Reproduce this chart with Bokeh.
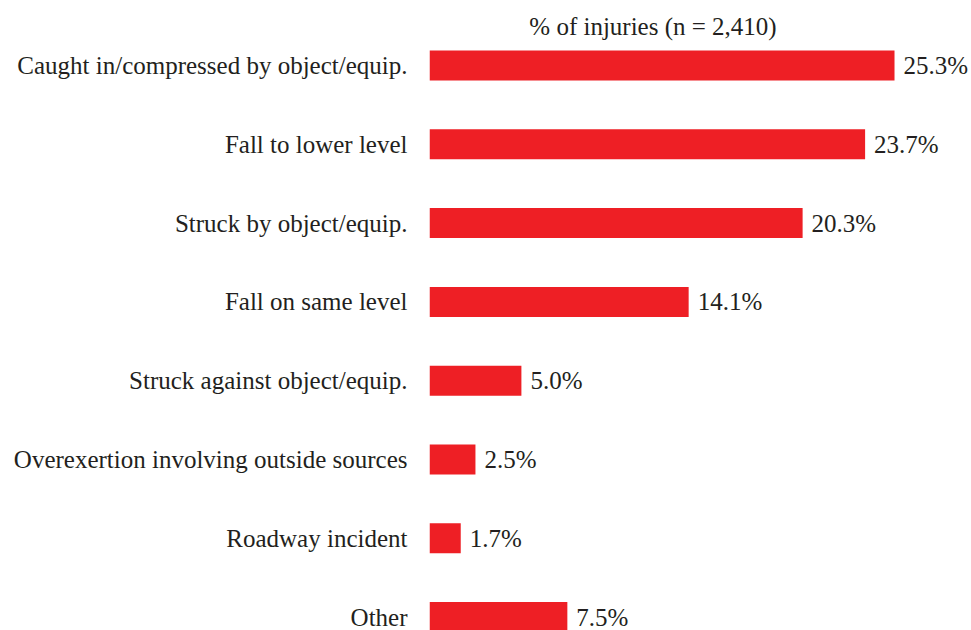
from bokeh.plotting import figure
from bokeh.models import Range1d, FixedTicker, ColumnDataSource, Label
from bokeh.core.properties import value
from bokeh.embed import file_html
from bokeh.resources import INLINE

categories = [
    "Caught in/compressed by object/equip.",
    "Fall to lower level",
    "Struck by object/equip.",
    "Fall on same level",
    "Struck against object/equip.",
    "Overexertion involving outside sources",
    "Roadway incident",
    "Other",
]
percents = [25.3, 23.7, 20.3, 14.1, 5.0, 2.5, 1.7, 7.5]
title_text = "% of injuries (n = 2,410)"

FONT = "Liberation Serif"
FS = "25px"
TEXT_COLOR = "#231F20"
BAR_COLOR = "#EE1F25"

W, H = 971, 630
LEFT = 429
px_per_pct = 18.38
px_per_row = 78.8
first_center = 65.0  # canvas px

pos = list(range(len(categories)))
labels = [f"{v:.1f}%" for v in percents]
src = ColumnDataSource(dict(y=pos, v=percents, lab=labels))

x_end = (W - LEFT) / px_per_pct
y_top = -first_center / px_per_row
y_bot = (H - first_center) / px_per_row

p = figure(width=W, height=H, output_backend="svg", toolbar_location=None,
           x_range=Range1d(0, x_end), y_range=Range1d(y_bot, y_top),
           min_border_left=LEFT, min_border_right=0, min_border_top=0, min_border_bottom=0)
p.outline_line_color = None
p.grid.visible = False
p.xaxis.visible = False
p.background_fill_color = "white"
p.border_fill_color = "white"

p.hbar(y="y", right="v", left=0, height=30 / px_per_row, source=src,
       fill_color=BAR_COLOR, line_color=None)
p.text(x="v", y="y", text="lab", source=src, x_offset=9, text_baseline="middle",
       text_align="left", text_font=value(FONT), text_font_size=FS, text_color=TEXT_COLOR)

ya = p.yaxis[0]
ya.ticker = FixedTicker(ticks=pos)
ya.major_label_overrides = {i: c for i, c in zip(pos, categories)}
ya.axis_line_color = None
ya.major_tick_line_color = None
ya.minor_tick_line_color = None
ya.major_tick_out = 0
ya.major_tick_in = 0
ya.major_label_standoff = 22
ya.major_label_text_font = FONT
ya.major_label_text_font_size = FS
ya.major_label_text_color = TEXT_COLOR

title_x = (652.5 - LEFT) / px_per_pct
title_y = (26.0 - first_center) / px_per_row
p.add_layout(Label(x=title_x, y=title_y, text=title_text, text_align="center",
                   text_baseline="middle", text_font=FONT, text_font_size=FS,
                   text_color=TEXT_COLOR))

open("out.html", "w").write(file_html(p, INLINE))
